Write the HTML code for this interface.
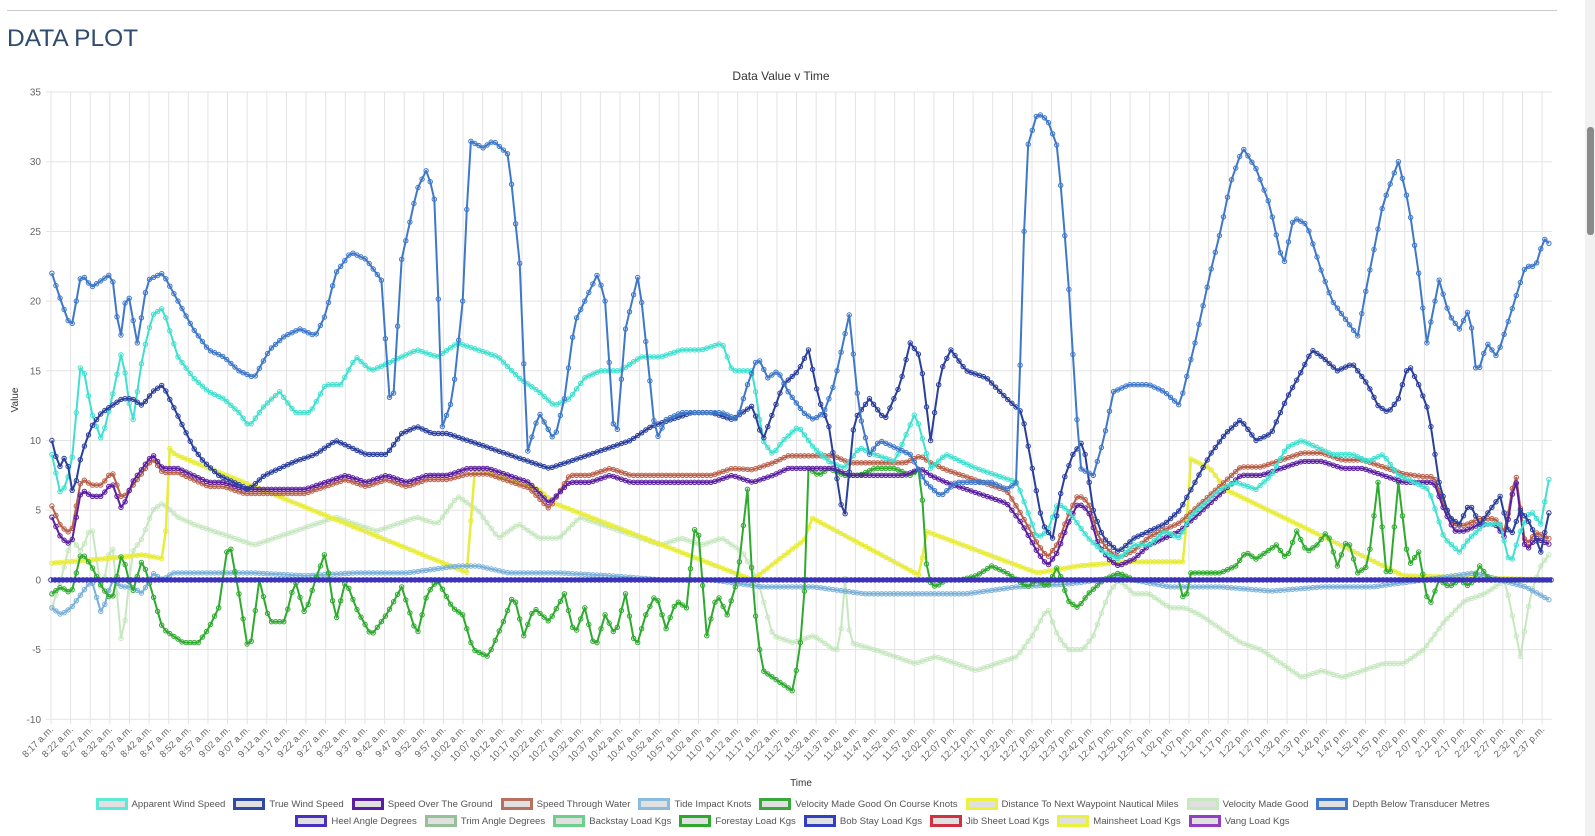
<!DOCTYPE html>
<html><head><meta charset="utf-8"><style>
body{margin:0;background:#fff;font-family:"Liberation Sans",sans-serif;width:1595px;height:836px;overflow:hidden;position:relative}
#rule{position:absolute;left:7px;top:10px;width:1550px;height:1px;background:#ccc}
h1{position:absolute;left:7px;top:25px;margin:0;font-weight:normal;font-size:24.5px;color:#2f4b6e;letter-spacing:0}
#sb{position:absolute;left:1585px;top:0;width:10px;height:836px;background:#f1f1f1}
#th{position:absolute;left:1587px;top:127px;width:7px;height:108px;background:#8a8a8a;border-radius:3px}
.leg{position:absolute;left:0;width:1585px;display:flex;justify-content:center;font-size:9.6px;color:#555;white-space:nowrap}
.leg span{display:inline-flex;align-items:center;margin:0 4px}
.leg i{display:inline-block;width:26px;height:6px;border:3px solid;background:#e0e0e0;margin-right:4px}
</style></head><body>
<div id="rule"></div>
<h1>DATA PLOT</h1>
<svg id="c" width="1585" height="836" style="position:absolute;left:0;top:0"></svg>
<div class="leg" style="top:798px">
<span><i style="border-color:#5ee8d6"></i>Apparent Wind Speed</span>
<span><i style="border-color:#2f4aa0"></i>True Wind Speed</span>
<span><i style="border-color:#5a1fa0"></i>Speed Over The Ground</span>
<span><i style="border-color:#b8705e"></i>Speed Through Water</span>
<span><i style="border-color:#8abce0"></i>Tide Impact Knots</span>
<span><i style="border-color:#3aa83a"></i>Velocity Made Good On Course Knots</span>
<span><i style="border-color:#eef040"></i>Distance To Next Waypoint Nautical Miles</span>
<span><i style="border-color:#c8e8c0"></i>Velocity Made Good</span>
<span><i style="border-color:#3f78c8"></i>Depth Below Transducer Metres</span>
</div>
<div class="leg" style="top:815px">
<span><i style="border-color:#4a30c0"></i>Heel Angle Degrees</span>
<span><i style="border-color:#98c098"></i>Trim Angle Degrees</span>
<span><i style="border-color:#6cd08a"></i>Backstay Load Kgs</span>
<span><i style="border-color:#2ea82e"></i>Forestay Load Kgs</span>
<span><i style="border-color:#3040c0"></i>Bob Stay Load Kgs</span>
<span><i style="border-color:#d03040"></i>Jib Sheet Load Kgs</span>
<span><i style="border-color:#e8f040"></i>Mainsheet Load Kgs</span>
<span><i style="border-color:#9040c0"></i>Vang Load Kgs</span>
</div>
<div id="sb"></div><div id="th"></div>
<script>
var svg=document.getElementById('c'),h='';
var X0=51,X1=1552,S=1.017;
function Y(v){return 92+(35-v)*13.94}
for(var v=35;v>=-10;v-=5){var y=Y(v);h+='<line x1="46" x2="'+X1+'" y1="'+y+'" y2="'+y+'" stroke="#e3e3e3"/>';h+='<text x="41" y="'+(y+3.5)+'" font-size="10" fill="#666" text-anchor="end">'+v+'</text>';}
var lab=[];for(var m=8*60+17;m<=14*60+37;m+=5){var hh=Math.floor(m/60),mm=m%60,pm=hh>=12;var d=hh>12?hh-12:hh;lab.push(d+':'+(mm<10?'0':'')+mm+(pm?' p.m.':' a.m.'));}
lab.forEach(function(t,i){var x=X0+i*19.62;h+='<line x1="'+x+'" x2="'+x+'" y1="92" y2="'+(Y(-10)+5)+'" stroke="#e3e3e3"/>';h+='<text x="'+(x+3)+'" y="730" font-size="9.5" fill="#666" text-anchor="end" transform="rotate(-45 '+(x+3)+' 730)">'+t+'</text>';});
h+='<text x="781" y="80" font-size="12" fill="#333" text-anchor="middle">Data Value v Time</text>';
h+='<text x="801" y="786" font-size="10" fill="#333" text-anchor="middle">Time</text>';
h+='<text x="18" y="400" font-size="10" fill="#333" text-anchor="middle" transform="rotate(-90 18 400)">Value</text>';
function P(s){var a=s.split(/[ ,]+/).map(Number),r=[];for(var i=0;i<a.length;i+=2)r.push([a[i],a[i+1]]);return r}
function interp(pts,x){for(var i=0;i<pts.length-1;i++){if(x>=pts[i][0]&&x<=pts[i+1][0]){var t=(x-pts[i][0])/(pts[i+1][0]-pts[i][0]||1);return pts[i][1]+t*(pts[i+1][1]-pts[i][1]);}}return pts[pts.length-1][1];}
function series(pts,col,w,mk,op){var d='',m='';for(var x=51;x<=1525;x+=4){var v=interp(pts,x),px=(x*S).toFixed(1),py=Y(v).toFixed(1);d+=(d?'L':'M')+px+' '+py;if(mk)m+='<circle cx="'+px+'" cy="'+py+'" r="2.2" fill="none" stroke="'+col+'" stroke-width="1"/>';}
h+='<g opacity="'+(op||1)+'"><path d="'+d+'" fill="none" stroke="'+col+'" stroke-width="'+w+'" stroke-linejoin="round"/>'+m+'</g>';}
var vmg=P("51 -2 60 0 70 3 80 2 90 4 100 -1 110 3 120 -5 130 2 140 3 150 5 160 5.5 175 4.5 190 4 210 3.5 230 3 250 2.5 270 3 290 3.5 310 4 330 4.5 350 4 370 3.5 390 4 410 4.5 430 4 450 6 470 5 490 3 510 4 530 3 550 3 570 4.5 590 4 610 3.5 630 3 650 2.5 670 3 690 2.5 710 3 730 2 745 0 760 -4 780 -4.5 800 -4 820 -5 826 -5 830 1 836 -4.5 860 -5 880 -5.5 900 -6 920 -5.5 940 -6 960 -6.5 980 -6 1000 -5.5 1015 -4 1030 -2 1040 -4 1050 -5 1065 -5 1075 -4 1090 -1 1100 0 1115 -1 1130 -1 1150 -2 1165 -2 1180 -2.5 1200 -3.5 1220 -4.5 1240 -5 1260 -6 1280 -7 1300 -6.5 1320 -7 1340 -6.5 1360 -6 1380 -6 1400 -5 1420 -3 1440 -1.5 1460 -1 1480 0 1495 -5.5 1505 -1 1515 1 1525 2");
series(vmg,'#b8e2b0',2,true,0.8);
var dist=P("51 1.2 100 1.5 140 1.8 162 1.5 166 9.5 172 9 460 0.5 466 8 530 6.5 545 5.5 740 0 793 3 797 4.5 905 0.3 910 3.5 965 2 1020 0.5 1060 1 1110 1.3 1165 1.3 1170 8.7 1190 8 1205 6.5 1380 0.3 1525 0");
series(dist,'#e8ec3a',2.5,true);
var tide=P("51 -2 60 -2.5 70 -2 80 -1 90 0 100 -2.5 110 0 120 -0.5 130 -0.5 140 -1 150 0.5 160 0 170 0.5 200 0.5 250 0.5 300 0.3 350 0.5 400 0.5 450 1 470 1 500 0.5 550 0.5 600 0.3 650 0 700 0 750 -0.5 800 -0.5 850 -1 900 -1 950 -1 1000 -0.5 1050 -0.3 1080 0 1100 0.2 1150 -0.5 1200 -0.5 1250 -0.8 1300 -0.5 1350 -0.5 1400 0 1450 0.5 1500 -0.5 1525 -1.5");
series(tide,'#7ab0d8',2,true);
var fs=P("51 -1 60 -0.5 70 -1 80 2 90 1 100 -0.5 110 -1.5 120 2 130 -1 140 1.5 150 -1 160 -3.5 170 -4 180 -4.5 195 -4.5 205 -3.5 215 -2 225 3 235 -1 245 -5.5 255 0 265 -3 280 -3 290 0 300 -2.5 310 0 320 2 330 -3 340 0 350 -2 365 -4 380 -2.5 395 -0.5 410 -4 420 -1 430 0 445 -2 455 -2.5 465 -5 480 -5.5 495 -3 505 -1 515 -4 525 -2 540 -3 555 -1 565 -4 575 -2 585 -5 595 -2.5 605 -4 615 -1 625 -5 635 -2.5 645 -1 655 -3.5 665 -1.5 675 -2 685 5 695 -4 705 -1 715 -2.5 725 0 735 6.5 740 -0.5 745 -4 750 -6.5 760 -7 770 -7.5 780 -8 790 -3 795 8 805 7.5 815 8 830 7.5 845 7.5 860 8 880 8 895 7.5 905 8 912 0 920 -0.5 930 0 945 0 960 0.3 975 1 990 0.5 1000 0 1010 -0.5 1020 0 1030 -0.5 1040 1 1050 -1.5 1060 -2 1070 -1 1085 0 1100 0.5 1115 0 1160 0 1165 -2 1170 0.5 1200 0.5 1215 1 1225 2 1235 1.5 1245 2 1255 2.5 1265 1.5 1275 3.5 1285 2 1295 2.5 1305 3.5 1315 1 1325 3 1335 0.5 1345 1 1355 7 1365 -1 1375 7 1385 1 1395 2 1405 -2 1415 0 1425 -0.5 1435 0 1445 -0.5 1455 1 1465 0 1525 0");
series(fs,'#2eaa2e',2,true);
var zb='';for(var x=51;x<=1552;x+=4)zb+='<circle cx="'+x+'" cy="'+Y(0)+'" r="2.3" fill="none" stroke="#3b32b8" stroke-width="1"/>';
h+='<line x1="51" x2="1552" y1="'+Y(0)+'" y2="'+Y(0)+'" stroke="#3b32b8" stroke-width="4"/>'+zb;
var sog=P("51 4.5 60 3 70 2.5 80 6.5 90 6 100 6 110 7 120 5 130 7 140 8 150 9 160 8 175 8 190 7.5 205 7 220 7 240 6.5 260 6.5 280 6.5 300 6.5 320 7 340 7.5 360 7 380 7.5 400 7 420 7.5 440 7.5 460 8 480 8 500 7.5 520 7 540 5.5 560 7 580 7 600 7.5 620 7 640 7 660 7 680 7 700 7 720 7.5 740 7 760 7.5 775 8 790 8 805 8 820 8 835 7.5 850 7.5 870 7.5 890 7.5 905 8 915 7.5 930 7 950 6.5 970 6 990 5.5 1005 4 1020 2 1030 1 1040 2 1050 4 1060 5.5 1070 5 1080 2.5 1090 1.5 1100 1 1115 1.5 1130 2.5 1145 3 1160 3.5 1175 4.5 1190 5.5 1205 6.5 1220 7.5 1240 7.5 1260 8 1280 8.5 1300 8.5 1320 8 1340 8 1360 7.5 1380 7 1400 7 1410 7 1420 5 1430 3.5 1440 3.5 1455 4 1470 4 1480 3 1490 7.5 1500 2 1510 3 1525 2.5");
var stw=sog.map(function(p){var x=p[0],o=0.4;if(x<130)o=0.8;else if(x<460)o=-0.3;else if(x<560)o=-0.4;else if(x<740)o=0.5;else if(x<1000)o=0.9;else if(x<1400)o=0.6;return [x,p[1]+o]});
series(stw,'#b8604a',2,true);
series(sog,'#5b1fa0',2,true);
var aws=P("51 9 60 6 70 8 80 16 90 12 100 10 110 13 120 16.5 130 11 140 16 150 19 160 19.5 175 16 190 14.5 205 13.5 220 13 235 12 245 11 260 12.5 275 13.5 290 12 305 12 320 14 335 14 350 16 365 15 380 15.5 395 16 410 16.5 430 16 450 17 470 16.5 490 16 510 14.5 530 13.5 545 12.5 560 13 575 14.5 590 15 610 15 630 16 650 16 670 16.5 690 16.5 710 17 720 15 740 15 750 10 760 9 770 10 785 11 800 9.5 815 8.5 830 8 845 9.5 860 9 880 8.5 900 12 915 8 930 9 945 8.5 960 8 980 7.5 1000 7 1010 5 1020 3 1030 3.5 1040 5.5 1050 5 1060 4 1070 3 1085 2 1100 1.5 1115 2.5 1130 2.5 1145 3.5 1160 3 1170 4.5 1185 5.5 1200 6.5 1215 7 1235 6.5 1250 7.5 1265 9.5 1280 10 1295 9.5 1310 9 1330 9 1345 8.5 1360 9 1375 7.5 1390 7 1405 6.5 1420 3 1435 2 1445 3 1460 4 1475 4 1485 1 1495 3.5 1505 5 1515 4 1525 8");
series(aws,'#40e0d0',2,true);
var tws=P("51 10 58 8 65 9 72 6 80 9 90 11 100 12 110 12.5 120 13 130 13 140 12.5 150 13.5 160 14 170 12.5 180 11 190 9.5 200 8.5 215 7.5 230 7 245 6.5 260 7.5 275 8 290 8.5 310 9 330 10 345 9.5 360 9 380 9 395 10.5 410 11 425 10.5 440 10.5 460 10 480 9.5 500 9 520 8.5 540 8 560 8.5 580 9 600 9.5 620 10 640 11 660 11.5 680 12 700 12 720 11.5 740 12.5 750 10 760 12 770 14 785 15 795 16.5 805 13 815 11 830 4 840 11.5 855 13 870 11.5 885 14 895 17 905 16 915 10 925 15 935 16.5 950 15 970 14.5 990 13 1005 12 1015 8 1025 4 1035 3 1045 7 1055 9 1065 10 1075 5 1085 3 1100 2 1115 3 1130 3.5 1145 4 1160 5 1175 7 1190 9 1205 10.5 1220 11.5 1235 10 1250 10.5 1265 13 1280 15 1290 16.5 1300 16 1315 15 1330 15.5 1345 14 1355 12.5 1365 12 1375 13 1385 15.5 1395 14 1405 12 1415 7 1425 4.5 1435 4 1445 5.5 1455 4 1465 5 1475 6 1485 3 1495 5 1505 4 1515 2 1525 5.5");
series(tws,'#2a3f9c',2,true);
var dep=P("51 22 60 20 70 18 80 22 90 21 100 21.5 110 22 118 17 125 21 135 17 145 21.5 160 22 175 20 190 18 205 16.5 220 16 235 15 250 14.5 265 16.5 280 17.5 295 18 310 17.5 320 19 330 22 345 23.5 360 23 375 21.5 385 11 395 23 410 28 420 29.5 428 27 435 11 445 13 455 20 462 31.5 475 31 485 31.5 500 30.5 512 22 518 9 530 12 545 10 555 13 565 18.5 575 20 588 22 595 20 605 9 615 18 628 22 638 15 645 10 655 11.5 670 12 690 12 710 12 725 11.5 735 14 745 16 755 14.5 765 15 775 13.5 790 12 800 11.5 810 12 820 14 835 19 845 12 855 9 865 10 880 9.5 895 9 910 7 925 6 940 7 960 7 975 7 990 6.5 1000 7 1005 21 1010 31 1020 33.5 1030 33 1040 31 1050 22 1062 8 1075 7.5 1085 10 1095 13.5 1110 14 1130 14 1145 13.5 1160 12.5 1175 17 1190 22 1200 25 1210 28.5 1222 31 1235 29.5 1248 27 1262 22.5 1272 26 1285 25.5 1300 22 1310 20 1320 19 1335 17.5 1345 21.5 1360 27 1375 30 1385 27 1395 22 1403 17 1415 21.5 1425 19 1435 18 1445 19.5 1452 14.5 1462 17 1472 16 1485 19 1500 22.5 1510 22.5 1518 24.5 1525 24");
series(dep,'#3f78c8',2,true);
svg.innerHTML=h;
</script>
</body></html>
